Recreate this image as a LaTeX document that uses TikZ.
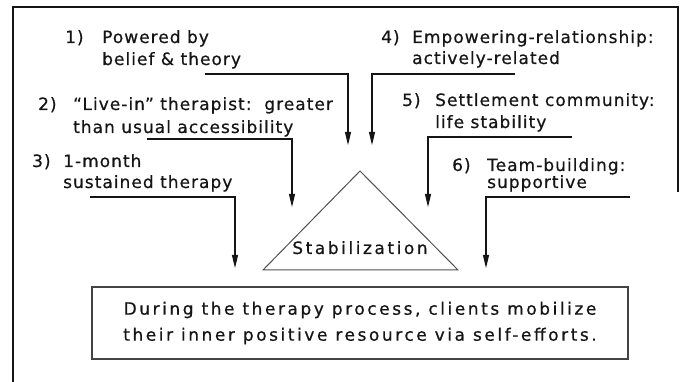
\documentclass[tikz,border=0pt]{standalone}
\usepackage{fontspec}
\setmainfont{DejaVu Sans}
\newfontfamily\labelfont{DejaVu Sans}[LetterSpace=6,FakeBold=0.6]
\newfontfamily\boxfont{DejaVu Sans}[LetterSpace=15,FakeBold=0.6]
\usetikzlibrary{arrows.meta}
\definecolor{ink}{HTML}{151515}

\tikzset{
  item/.style={anchor=base west, inner sep=0, align=left, text=ink,
    font=\labelfont\fontsize{17}{22}\selectfont},
  link/.style={ink, line width=1.2pt, -{Triangle[length=13pt,width=6pt]}},
}

\begin{document}
\begin{tikzpicture}[x=1pt,y=-1pt]
\useasboundingbox (0,0) rectangle (681,382);
\draw[ink, line width=2pt] (13,382) -- (13,7) -- (678,7) -- (678,192);

% the six factors (base = last line)
\node[item] (n1) at (65,43) {1)};
\node[item] (t1) at (102,65) {Powered by\\belief \& theory};
\node[item] (n2) at (38,110) {2)};
\node[item] (t2) at (73,133) {“Live-in” therapist:\ \ greater\\[1pt]than usual accessibility};
\node[item] (n3) at (32,167) {3)};
\node[item] (t3) at (63,188) {1-month\\[-1pt]sustained therapy};
\node[item] (n4) at (381,43) {4)};
\node[item] (t4) at (412,64) {Empowering-relationship:\\[-1pt]actively-related};
\node[item] (n5) at (402,106) {5)};
\node[item] (t5) at (435,128) {Settlement community:\\life stability};
\node[item] (n6) at (452,171) {6)};
\node[item] (t6) at (487,188) {Team-building:\\[-5pt]supportive};

% triangle in the middle
\coordinate (apex) at (360,171);
\coordinate (bl) at (263,270);
\coordinate (br) at (458,270);
\draw[ink!75, line width=1pt] (apex) -- (br) -- (bl) -- cycle;
\node[anchor=base, inner sep=0, text=ink, font=\boxfont\fontsize{17}{20}\selectfont] (stab) at (360,254) {Stabilization};

% result box
\node[draw=ink!80, line width=1.4pt, minimum width=536pt, minimum height=72pt,
  align=center, text=ink, font=\boxfont\fontsize{17}{26}\selectfont] (goal) at (360,323)
  {During the therapy process, clients mobilize\\their inner positive resource via self-efforts.};

% connectors: underline, then down
\coordinate (s1) at (205,74);  \coordinate (e1) at (348,145);
\coordinate (s2) at (147,139); \coordinate (e2) at (292,207);
\coordinate (s3) at (90,197);  \coordinate (e3) at (235,268);
\coordinate (s4) at (515,74);  \coordinate (e4) at (372,145);
\coordinate (s5) at (572,137); \coordinate (e5) at (428,207);
\coordinate (s6) at (630,197); \coordinate (e6) at (486,268);
\foreach \i in {1,...,6}
  \draw[link] (s\i) -| (e\i);
\end{tikzpicture}
\end{document}
